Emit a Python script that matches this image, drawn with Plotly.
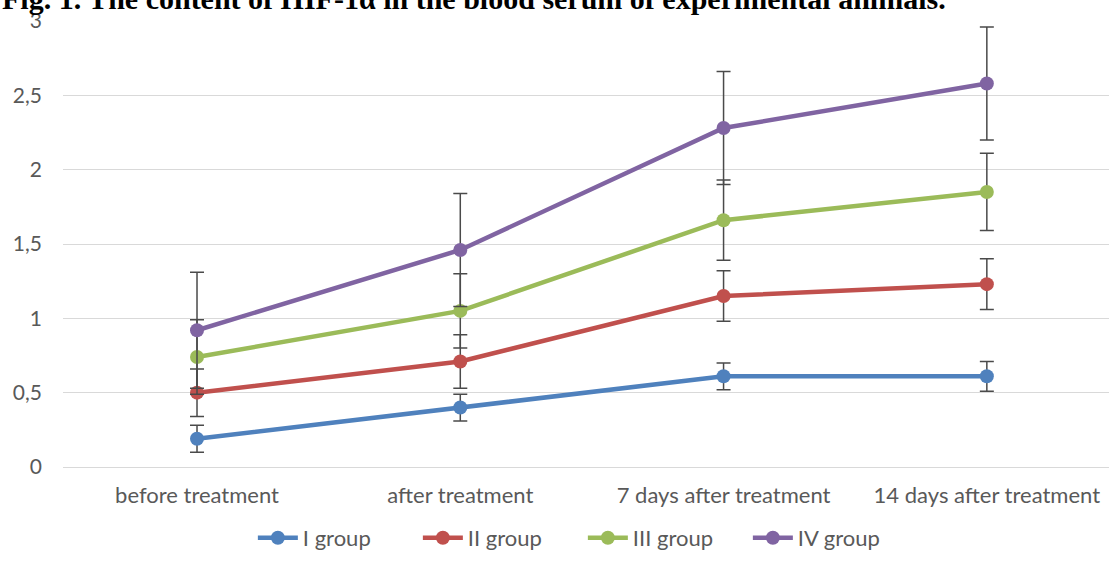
import plotly.graph_objects as go

# Time points on the x axis
categories = ["before treatment", "after treatment", "7 days after treatment", "14 days after treatment"]

# HIF-1α serum content, mean values per group
group_names = ["I group", "II group", "III group", "IV group"]
group_i = [0.19, 0.40, 0.61, 0.61]
group_ii = [0.50, 0.71, 1.15, 1.23]
group_iii = [0.74, 1.05, 1.66, 1.85]
group_iv = [0.92, 1.46, 2.28, 2.58]

# Symmetric error bar half-widths per group
err_i = [0.09, 0.09, 0.09, 0.10]
err_ii = [0.16, 0.18, 0.17, 0.17]
err_iii = [0.25, 0.25, 0.27, 0.26]
err_iv = [0.39, 0.38, 0.38, 0.38]

# Y axis ticks (comma decimal separator)
y_ticks = [0, 0.5, 1, 1.5, 2, 2.5, 3]
y_tick_labels = ["0", "0,5", "1", "1,5", "2", "2,5", "3"]

title_text = "Fig. 1. The content of HIF-1α in the blood serum of experimental animals."

colors = ["#4F81BD", "#C0504D", "#9BBB59", "#8064A2"]
series = [group_i, group_ii, group_iii, group_iv]
errors = [err_i, err_ii, err_iii, err_iv]

W, H = 1109, 562
L, R, T, B = 63, 0, 21, 95
label_font = dict(family="Lato", size=22, color="#595959")
tick_font = dict(family="Lato", size=21, color="#595959")

fig = go.Figure()
for name, vals, errs, col in zip(group_names, series, errors, colors):
    fig.add_trace(go.Scatter(
        x=categories, y=vals, name=name, mode="lines+markers",
        line=dict(color=col, width=4.5),
        marker=dict(color=col, size=14),
        error_y=dict(type="data", array=errs, visible=True,
                     color="#4a4a4a", thickness=1.5, width=7),
    ))

fig.update_layout(
    width=W, height=H,
    margin=dict(l=L, r=R, t=T, b=B),
    paper_bgcolor="white", plot_bgcolor="white",
    showlegend=True,
    legend=dict(orientation="h", x=0.497, xanchor="center",
                y=-0.159, yanchor="middle", font=label_font,
                itemwidth=40, tracegroupgap=0,
                entrywidth=110, entrywidthmode="pixels"),
    xaxis=dict(type="category", range=[-0.509, 3.464], showgrid=False,
               showline=False, zeroline=False, ticks="",
               tickfont=label_font, ticklabelstandoff=13),
    yaxis=dict(range=[0, 3], tickvals=y_ticks, ticktext=y_tick_labels,
               showgrid=True, gridcolor="#d9d9d9", gridwidth=1,
               zeroline=True, zerolinecolor="#d9d9d9", zerolinewidth=1,
               showline=False, ticks="", tickfont=tick_font,
               ticklabelstandoff=20),
    annotations=[dict(
        text="<b>" + title_text + "</b>", xref="paper", yref="paper",
        x=-L / (W - L - R), y=1.008, xanchor="left", yanchor="bottom",
        showarrow=False,
        font=dict(family="Liberation Serif", size=30, color="black"),
    )],
)

fig.write_html("out.html")
